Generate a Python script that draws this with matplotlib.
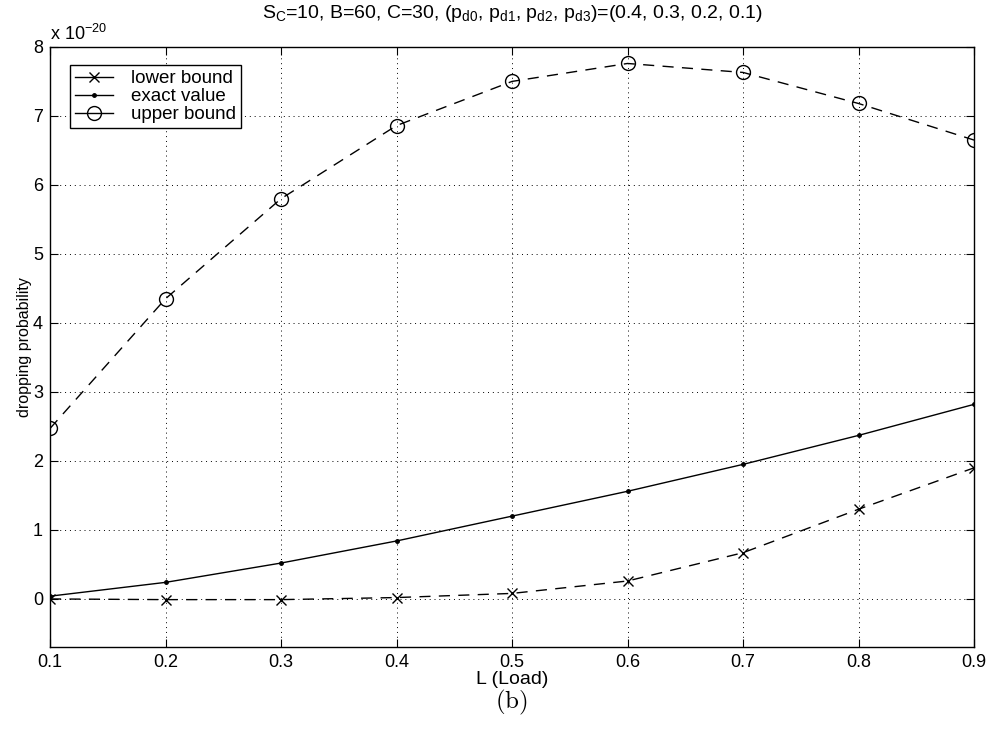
import matplotlib
matplotlib.use("Agg")
import matplotlib.pyplot as plt

plt.rcParams['font.family'] = ['Liberation Sans', 'DejaVu Sans']
plt.rcParams['mathtext.default'] = 'regular'
plt.rcParams['font.size'] = 11

# load values and curves (units of 1e-20)
load = [0.1, 0.2, 0.3, 0.4, 0.5, 0.6, 0.7, 0.8, 0.9]
lower_bound = [0.0, -0.01, -0.01, 0.02, 0.08, 0.26, 0.67, 1.30, 1.90]
exact_value = [0.04, 0.24, 0.52, 0.84, 1.20, 1.56, 1.95, 2.37, 2.82]
upper_bound = [2.47, 4.35, 5.80, 6.86, 7.50, 7.76, 7.63, 7.18, 6.65]
xticks = [0.1, 0.2, 0.3, 0.4, 0.5, 0.6, 0.7, 0.8, 0.9]
yticks = [0, 1, 2, 3, 4, 5, 6, 7, 8]

fig = plt.figure(figsize=(9.92, 7.33), dpi=100)
ax = fig.add_axes([0.0504, 0.117, 0.9315, 0.819])

ax.plot(load, lower_bound, color='black', linestyle=(0, (8, 6)), linewidth=1.0,
        marker='x', markersize=7, markeredgewidth=1.0, label='lower bound')
ax.plot(load, exact_value, color='black', linestyle='-', linewidth=1.0,
        marker='.', markersize=5, label='exact value')
ax.plot(load, upper_bound, color='black', linestyle=(0, (8, 6)), linewidth=1.0,
        marker='o', markersize=10, markerfacecolor='none', markeredgewidth=1.0,
        label='upper bound')

ax.set_xlim(0.1, 0.9)
ax.set_ylim(-0.7, 8)
ax.set_xticks(xticks)
ax.set_xticklabels([f"{v:g}" for v in xticks], fontsize=13)
ax.set_yticks(yticks)
ax.set_yticklabels([str(v) for v in yticks], fontsize=13)
ax.tick_params(direction='in', length=6, width=0.8, top=True, right=True, pad=5)
ax.grid(True, linestyle=(0, (1, 4)), color='black', linewidth=0.7)
for s in ax.spines.values():
    s.set_linewidth(1.0)

ax.set_xlabel('L (Load)', fontsize=14, labelpad=0)
ax.set_ylabel('dropping probability', fontsize=11.5, labelpad=1)
ax.set_title('S$_C$=10, B=60, C=30, (p$_{d0}$, p$_{d1}$, p$_{d2}$, p$_{d3}$)=(0.4, 0.3, 0.2, 0.1)',
             fontsize=14, pad=21)
ax.text(0.0, 1.005, r'x 10$^{-20}$', transform=ax.transAxes, fontsize=13,
        ha='left', va='bottom')

leg = ax.legend(loc='upper left', fontsize=13.5, fancybox=False, framealpha=1,
                edgecolor='black', handlelength=2.0, handletextpad=1.0,
                borderpad=0.25, labelspacing=0.05, bbox_to_anchor=(0.012, 0.985))
leg.get_frame().set_linewidth(1.0)
for line in leg.get_lines():
    line.set_linestyle('-')

plt.rcParams['mathtext.fontset'] = 'cm'
fig.text(0.5155, 0.022, r'$\mathrm{(b)}$', fontsize=18, ha='center', va='bottom')

fig.savefig('out.png', dpi=100)
